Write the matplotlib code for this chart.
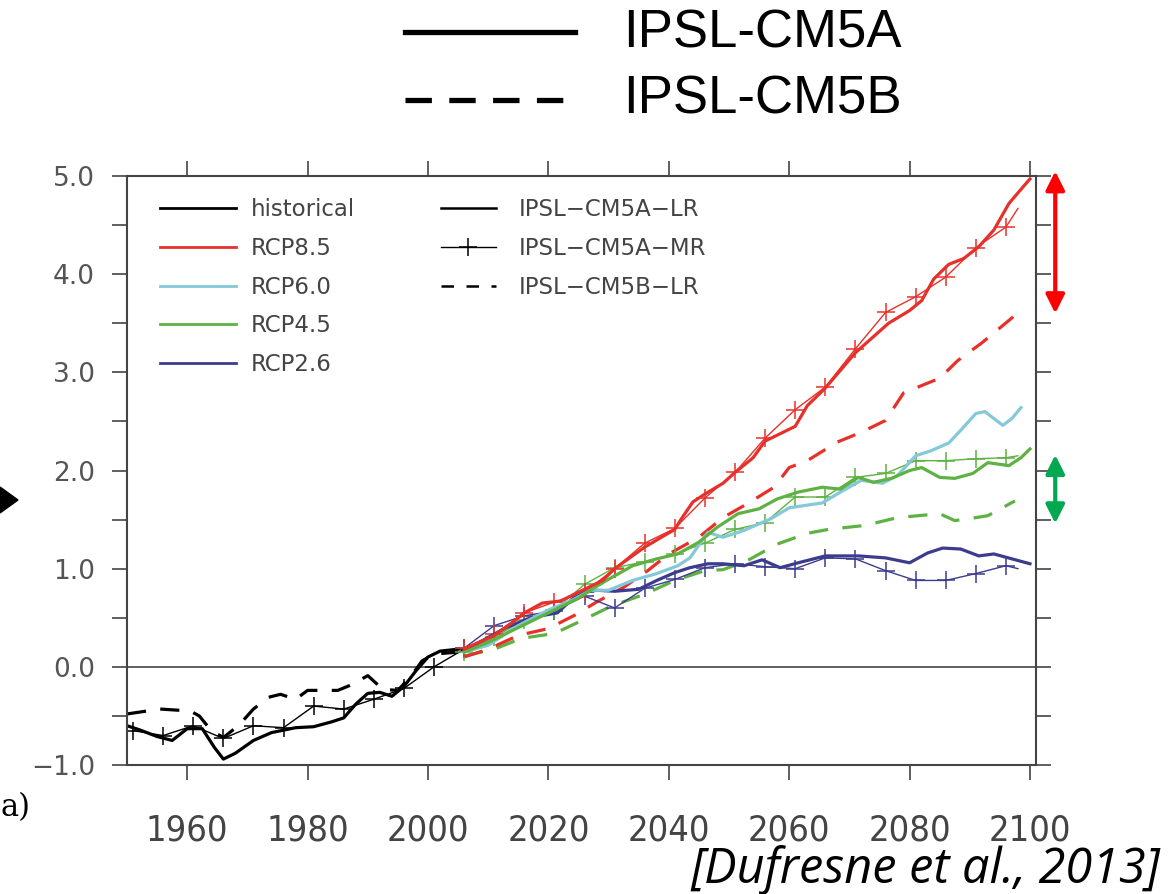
import numpy as np
import matplotlib
matplotlib.use("Agg")
import matplotlib.pyplot as plt
from matplotlib.lines import Line2D
from matplotlib.patches import Polygon

# ---- data (global temperature anomaly, K) ----
hist_lr_years = [1950, 1952, 1955, 1957.5, 1960, 1962.5, 1964.5, 1966, 1968, 1971, 1974, 1978,
                 1981, 1984, 1986, 1988, 1990, 1992, 1994, 1996, 1998, 2000, 2002, 2005]
hist_lr = [-0.60, -0.64, -0.71, -0.75, -0.63, -0.63, -0.82, -0.94, -0.88, -0.75, -0.67, -0.62,
           -0.61, -0.56, -0.52, -0.38, -0.27, -0.26, -0.30, -0.20, -0.04, 0.10, 0.16, 0.18]

hist_b_years = [1950, 1955.5, 1960.5, 1962, 1964, 1966, 1968.5, 1971, 1973.5, 1975.5, 1978,
                1980, 1982, 1985, 1987, 1990, 1992.5, 1995, 1997.5, 1999, 2001, 2005]
hist_b = [-0.48, -0.43, -0.45, -0.50, -0.65, -0.72, -0.60, -0.43, -0.31, -0.28, -0.33,
          -0.24, -0.24, -0.24, -0.19, -0.09, -0.23, -0.24, -0.07, 0.06, 0.13, 0.15]

hist_mr_years = [1951, 1956, 1961, 1966, 1971, 1976, 1981, 1986, 1991, 1996, 2001, 2006]
hist_mr = [-0.65, -0.70, -0.60, -0.73, -0.60, -0.62, -0.40, -0.43, -0.33, -0.22, 0.00, 0.18]

lr85_years = [2006, 2008.5, 2011, 2014, 2016, 2019, 2022, 2025, 2029, 2031, 2036, 2041, 2042, 2044,
              2046, 2049, 2051, 2054, 2056, 2059, 2061, 2063, 2066, 2071, 2076.5, 2080, 2082, 2084,
              2086.5, 2089, 2091.5, 2094, 2096.5, 2099, 2100]
lr85 = [0.18, 0.25, 0.32, 0.45, 0.55, 0.65, 0.67, 0.76, 0.88, 1.00, 1.22, 1.40, 1.50, 1.68,
        1.76, 1.87, 1.98, 2.13, 2.30, 2.39, 2.45, 2.66, 2.84, 3.20, 3.50, 3.63, 3.73, 3.95,
        4.10, 4.16, 4.28, 4.45, 4.72, 4.90, 4.97]

lr60_years = [2006, 2010, 2015, 2020, 2024, 2027, 2030, 2034, 2038, 2041.5, 2043.5, 2046.5, 2049,
              2052.5, 2057, 2060, 2065.5, 2068.5, 2072, 2075.5, 2078, 2081, 2083.5, 2086.5,
              2088.5, 2091, 2092.5, 2095.5, 2097, 2098.5]
lr60 = [0.15, 0.22, 0.42, 0.58, 0.68, 0.78, 0.78, 0.88, 0.95, 1.03, 1.11, 1.37, 1.32,
        1.39, 1.51, 1.62, 1.67, 1.78, 1.90, 1.87, 1.95, 2.15, 2.20, 2.28,
        2.41, 2.58, 2.60, 2.46, 2.53, 2.64]

lr45_years = [2006, 2010, 2015, 2020, 2025, 2028, 2030.5, 2034, 2038, 2041.5, 2045, 2048, 2051.5,
              2055, 2058, 2061.5, 2065.5, 2068.5, 2071.5, 2074, 2077, 2080, 2082, 2085, 2087.5,
              2090.5, 2093, 2096.5, 2098.5, 2100]
lr45 = [0.15, 0.25, 0.40, 0.55, 0.70, 0.82, 0.91, 1.03, 1.10, 1.15, 1.27, 1.42, 1.56,
        1.61, 1.71, 1.78, 1.83, 1.81, 1.93, 1.88, 1.92, 2.00, 2.03, 1.93, 1.92,
        1.97, 2.08, 2.05, 2.13, 2.22]

lr26_years = [2006, 2010, 2013, 2017, 2021.5, 2025, 2028, 2031, 2035, 2038, 2041, 2043.5, 2046.5,
              2049, 2052.5, 2055.5, 2058.5, 2061.5, 2066, 2071.5, 2076, 2080, 2083, 2085.5,
              2088.5, 2091.5, 2094, 2097, 2100]
lr26 = [0.16, 0.30, 0.40, 0.50, 0.55, 0.75, 0.78, 0.77, 0.79, 0.88, 0.96, 1.01, 1.05,
        1.05, 1.03, 1.09, 1.01, 1.06, 1.13, 1.13, 1.11, 1.06, 1.16, 1.21,
        1.20, 1.13, 1.15, 1.10, 1.05]

# IPSL-CM5A-MR, one value every 5 years (+ last year)
mr_years = [2006, 2011, 2016, 2021, 2026, 2031, 2036, 2041, 2046, 2051, 2056, 2061, 2066,
            2071, 2076, 2081, 2086, 2091, 2096, 2098]
mr85 = [0.19, 0.33, 0.55, 0.66, 0.76, 1.00, 1.26, 1.41, 1.72, 1.98, 2.33, 2.62, 2.85,
        3.24, 3.61, 3.77, 3.97, 4.27, 4.48, 4.67]
mr45 = [0.15, 0.30, 0.48, 0.58, 0.84, 1.01, 1.07, 1.15, 1.26, 1.40, 1.47, 1.73, 1.73,
        1.93, 1.97, 2.10, 2.10, 2.12, 2.13, 2.15]
mr26 = [0.19, 0.42, 0.52, 0.57, 0.72, 0.60, 0.80, 0.89, 1.01, 1.05, 1.02, 1.00, 1.11,
        1.10, 0.98, 0.88, 0.88, 0.95, 1.03, 1.00]

# IPSL-CM5B-LR
b85_years = [2006, 2010, 2015, 2020, 2024.5, 2028, 2032.5, 2036.5, 2040, 2045, 2049, 2053,
             2057.5, 2060, 2063, 2068, 2072, 2076, 2079, 2083, 2085, 2088, 2092, 2097.5]
b85 = [0.10, 0.18, 0.32, 0.39, 0.53, 0.66, 0.81, 0.98, 1.15, 1.32, 1.52, 1.66,
       1.83, 2.03, 2.10, 2.29, 2.39, 2.51, 2.79, 2.89, 2.94, 3.12, 3.30, 3.58]
b45_years = [2006, 2011, 2015.5, 2021, 2025.5, 2030.5, 2036, 2041, 2046, 2049, 2053, 2058,
             2063, 2066.5, 2072.5, 2078, 2081.5, 2085, 2087.5, 2090, 2093, 2097.5]
b45 = [0.11, 0.18, 0.29, 0.34, 0.47, 0.62, 0.74, 0.88, 0.98, 0.99, 1.08, 1.25,
       1.36, 1.40, 1.44, 1.52, 1.54, 1.56, 1.49, 1.51, 1.54, 1.69]

scen_labels = ["historical", "RCP8.5", "RCP6.0", "RCP4.5", "RCP2.6"]
model_labels = ["IPSL\u2212CM5A\u2212LR", "IPSL\u2212CM5A\u2212MR", "IPSL\u2212CM5B\u2212LR"]
xticks = [1960, 1980, 2000, 2020, 2040, 2060, 2080, 2100]

c_hist = "black"
c85 = "#e8302b"
c60 = "#84c8d9"
c45 = "#5db241"
c26 = "#3c3c8e"

fig = plt.figure(figsize=(11.73, 8.94), dpi=100)
ax = fig.add_axes([0.1083, 0.1443, 0.7749, 0.6588])

lw_thick = 2.3
lw_thin = 1.0
dash = (6, 4.5)
mk = dict(marker="+", markersize=13, markeredgewidth=1.1)

ax.axhline(0, color="#555555", lw=1.3, zorder=1)

# historical
ax.plot(hist_b_years, hist_b, color=c_hist, lw=lw_thick, dashes=dash)
ax.plot(hist_mr_years, hist_mr, color=c_hist, lw=lw_thin, **mk)
ax.plot(hist_lr_years, hist_lr, color=c_hist, lw=lw_thick)

# CM5B dashed
ax.plot(b45_years, b45, color=c45, lw=lw_thick, dashes=dash)
ax.plot(b85_years, b85, color=c85, lw=lw_thick, dashes=dash)

# CM5A-MR thin with crosses
me = list(range(len(mr_years) - 1))
ax.plot(mr_years, mr26, color=c26, lw=lw_thin, markevery=me, **mk)
ax.plot(mr_years, mr45, color=c45, lw=lw_thin, markevery=me, **mk)
ax.plot(mr_years, mr85, color=c85, lw=lw_thin, markevery=me, **mk)

# CM5A-LR thick
ax.plot(lr26_years, lr26, color=c26, lw=lw_thick)
ax.plot(lr60_years, lr60, color=c60, lw=lw_thick)
ax.plot(lr45_years, lr45, color=c45, lw=lw_thick)
ax.plot(lr85_years, lr85, color=c85, lw=lw_thick)

ax.set_xlim(1950, 2101)
ax.set_ylim(-1.0, 5.0)

yt = np.arange(-1.0, 5.01, 0.5)
ax.set_yticks(yt)
ax.set_yticklabels([("%.1f" % v).replace("-", "\u2212") if abs(v - round(v)) < 1e-6 else "" for v in yt],
                   fontsize=19, color="#555555", family="DejaVu Sans")
ax.set_xticks(xticks)
ax.set_xticklabels([str(v) for v in xticks], fontsize=26, color="#444444",
                   family=["Liberation Sans Narrow", "DejaVu Sans"], stretch="condensed")
ax.tick_params(axis="both", direction="out", length=11, width=1.2, color="#444444",
               top=True, right=True)
ax.tick_params(axis="x", pad=24)
ax.tick_params(axis="y", pad=12)
for s in ax.spines.values():
    s.set_color("#444444")
    s.set_linewidth(1.5)

# legends inside the plot
h1 = [Line2D([], [], color=c, lw=2.0) for c in [c_hist, c85, c60, c45, c26]]
leg1 = ax.legend(h1, scen_labels, loc="upper left", bbox_to_anchor=(0.0365, 0.962),
                 frameon=False, fontsize=16.5, handlelength=3.3, handletextpad=0.65,
                 labelspacing=0.68, borderpad=0, borderaxespad=0)
for t in leg1.get_texts():
    t.set_color("#444444")
ax.add_artist(leg1)
h2 = [Line2D([], [], color="black", lw=1.8),
      Line2D([], [], color="black", lw=1.0, marker="+", markersize=13, markeredgewidth=1.1),
      Line2D([], [], color="black", lw=1.8, dashes=(5, 5))]
leg2 = ax.legend(h2, model_labels, loc="upper left", bbox_to_anchor=(0.345, 0.962),
                 frameon=False, fontsize=16.5, handlelength=2.4, handletextpad=1.0,
                 labelspacing=0.68, borderpad=0, borderaxespad=0)
for t in leg2.get_texts():
    t.set_color("#444444")

# range arrows on the right
arr = dict(arrowstyle="<|-|>", lw=3, mutation_scale=28, shrinkA=0, shrinkB=0)
ax.annotate("", xy=(2104.2, 5.05), xytext=(2104.2, 3.60), xycoords="data",
            arrowprops=dict(color="#ff0000", **arr), annotation_clip=False)
ax.annotate("", xy=(2104.2, 2.16), xytext=(2104.2, 1.46), xycoords="data",
            arrowprops=dict(color="#00a850", **arr), annotation_clip=False)

# top legend (model families)
W, H = 1173, 894
fig.add_artist(Line2D([405 / W, 575 / W], [1 - 32 / H, 1 - 32 / H], color="black", lw=3.8,
                      transform=fig.transFigure))
fig.add_artist(Line2D([405 / W, 576 / W], [1 - 100 / H, 1 - 100 / H], color="black", lw=3.8,
                      dashes=(5, 3.3), transform=fig.transFigure))
fig.text(623 / W, 1 - 34 / H, "IPSL-CM5A", fontsize=38, family="Liberation Sans",
         va="center", ha="left")
fig.text(623 / W, 1 - 100 / H, "IPSL-CM5B", fontsize=38, family="Liberation Sans",
         va="center", ha="left")

# black arrow head on the left
fig.add_artist(Polygon([[0, 1 - 487 / H], [18 / W, 1 - 500 / H], [0, 1 - 513 / H]],
                       closed=True, color="black", transform=fig.transFigure))

fig.text(0.0, 1 - 808 / H, "a)", fontsize=22, family="DejaVu Serif", va="center", ha="left")
fig.text(1160 / W, 1 - 870 / H, "[Dufresne et al., 2013]", fontsize=35, family="Open Sans",
         style="italic", va="center", ha="right")

fig.savefig("out.png", dpi=100)
